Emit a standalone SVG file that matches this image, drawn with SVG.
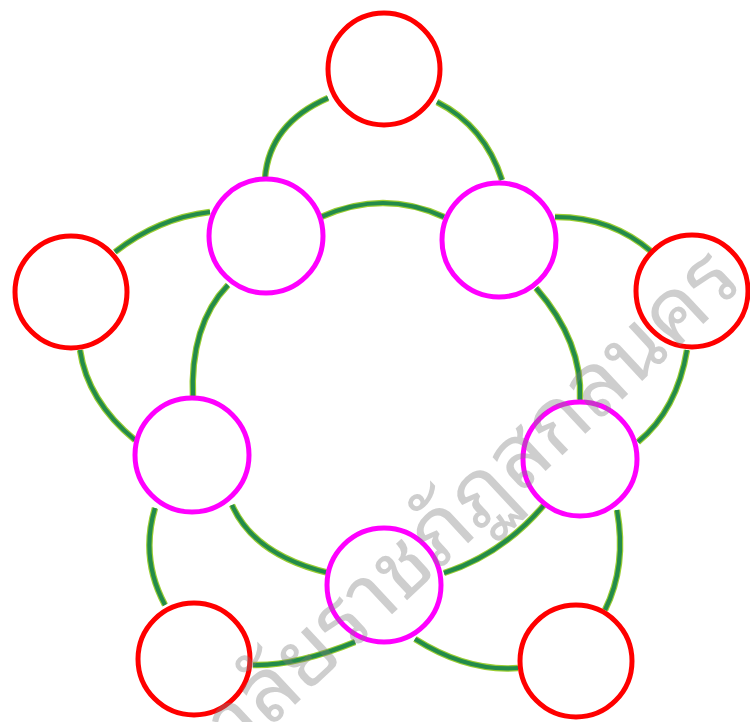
<svg xmlns="http://www.w3.org/2000/svg" xmlns:xlink="http://www.w3.org/1999/xlink" width="750" height="722" viewBox="0 0 750 722">
<style>
.edge-under{fill:none;stroke:#9acd32;stroke-width:6.5;stroke-linecap:butt}
.edge-over{fill:none;stroke:#238b4a;stroke-width:4.2;stroke-linecap:butt}
.red{fill:#ffffff;stroke:#ff0000;stroke-width:5}
.mag{fill:#ffffff;stroke:#ff00ff;stroke-width:5}
.wm{font-family:"Noto Sans Thai Looped","Noto Serif Thai","Garuda","Loma","Norasi","Kinnari","Noto Sans Thai","DejaVu Sans",sans-serif;font-size:88px;fill:#7f7f7f;fill-opacity:0.38}
</style>
<defs>
<path id="e1" d="M328,98 Q269.5,123.5 265,178"/>
<path id="e2" d="M437,102 Q484.5,126 502,180"/>
<path id="e3" d="M321,217 Q383.5,189 444,217"/>
<path id="e4" d="M115,252 Q158.5,218 210,212"/>
<path id="e5" d="M228,285 Q189.5,325 193,399"/>
<path id="e6" d="M80,350 Q87.5,401 135,440"/>
<path id="e7" d="M155,508 Q140,558.5 165,605"/>
<path id="e8" d="M232,505 Q254.5,555.5 329,573"/>
<path id="e9" d="M253,665 Q296,666 355,642"/>
<path id="e10" d="M415,639 Q467.5,672 518,668"/>
<path id="e11" d="M444,573 Q502,554.5 544,505"/>
<path id="e12" d="M617,510 Q627,566 605,610"/>
<path id="e13" d="M536,288 Q583,342 580,400"/>
<path id="e14" d="M687,350 Q677,410 638,442"/>
<path id="e15" d="M555,217 Q610.5,216.5 652,252"/>
</defs>
<g id="connectors">
<g class="edge-under">
<use xlink:href="#e1"/><use xlink:href="#e2"/><use xlink:href="#e3"/><use xlink:href="#e4"/><use xlink:href="#e5"/>
<use xlink:href="#e6"/><use xlink:href="#e7"/><use xlink:href="#e8"/><use xlink:href="#e9"/><use xlink:href="#e10"/>
<use xlink:href="#e11"/><use xlink:href="#e12"/><use xlink:href="#e13"/><use xlink:href="#e14"/><use xlink:href="#e15"/>
</g>
<g class="edge-over">
<use xlink:href="#e1"/><use xlink:href="#e2"/><use xlink:href="#e3"/><use xlink:href="#e4"/><use xlink:href="#e5"/>
<use xlink:href="#e6"/><use xlink:href="#e7"/><use xlink:href="#e8"/><use xlink:href="#e9"/><use xlink:href="#e10"/>
<use xlink:href="#e11"/><use xlink:href="#e12"/><use xlink:href="#e13"/><use xlink:href="#e14"/><use xlink:href="#e15"/>
</g>
</g>
<g id="red-top"><circle class="red" cx="384" cy="69" r="56"/></g>
<g id="red-left"><circle class="red" cx="71" cy="292" r="56"/></g>
<g id="red-right"><circle class="red" cx="692" cy="291" r="56"/></g>
<g id="red-bottom-left"><circle class="red" cx="194" cy="659" r="56"/></g>
<g id="red-bottom-right"><circle class="red" cx="576" cy="661" r="56"/></g>
<g id="mag-top-left"><circle class="mag" cx="266" cy="236" r="57"/></g>
<g id="mag-top-right"><circle class="mag" cx="499" cy="240" r="57"/></g>
<g id="mag-left"><circle class="mag" cx="192" cy="455" r="57"/></g>
<g id="mag-right"><circle class="mag" cx="580" cy="459" r="57"/></g>
<g id="mag-bottom"><circle class="mag" cx="384" cy="585" r="57"/></g>
<text class="wm" x="0" y="0" text-anchor="end" transform="translate(745,285) rotate(-43)">มหาวิทยาลัยราชภัฏสกลนคร</text>
</svg>
